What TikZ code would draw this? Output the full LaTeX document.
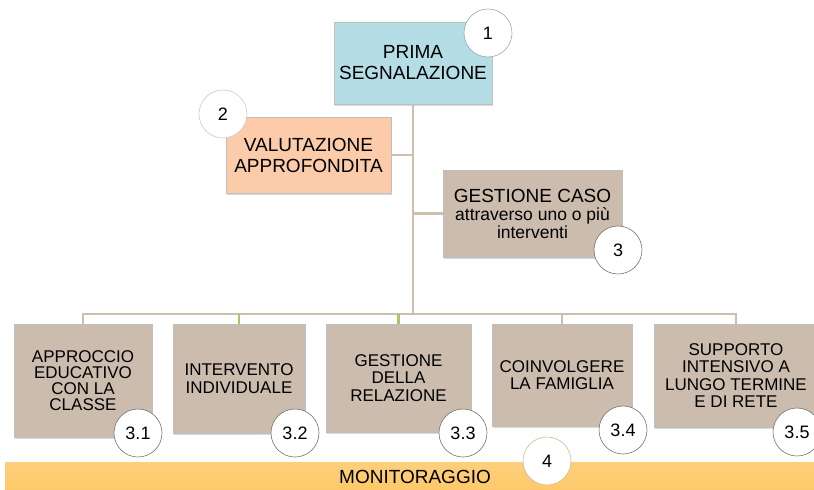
\documentclass[tikz,border=0pt]{standalone}
\usepackage{fontspec}
\setmainfont{Liberation Sans}
\usetikzlibrary{shadows}

\definecolor{lineclr}{HTML}{CDBFAD}
\definecolor{stubclr}{HTML}{A9C46C}
\definecolor{bluebox}{HTML}{B5DDE6}
\definecolor{peachbox}{HTML}{FBCBAA}
\definecolor{taupebox}{HTML}{CBBCAD}
\definecolor{barclr}{HTML}{FDC96A}

\begin{document}
\begin{tikzpicture}[x=1pt, y=-1pt,
		box/.style={draw=black!25, line width=0.5pt, inner sep=2pt, align=center,
			drop shadow={shadow xshift=1.2pt, shadow yshift=-1.5pt, opacity=0.3}},
		big/.style={font=\fontsize{19}{21}\selectfont},
		small/.style={font=\fontsize{17}{17.5}\selectfont},
		numcirc/.style={circle, draw=black!55, fill=white, line width=0.6pt,
			minimum size=48pt, inner sep=0pt, font=\fontsize{18}{18}\selectfont},
		link/.style={draw=lineclr, line width=2.5pt}]
			\useasboundingbox (0,0) rectangle (814,490);
			% upper part
			\node (prima) [box, big, fill=bluebox, minimum width=158pt, minimum height=82pt] at (413,63)
				{PRIMA\\SEGNALAZIONE};
			\node (valut) [box, big, fill=peachbox, minimum width=165pt, minimum height=76pt] at (308.5,155)
				{VALUTAZIONE\\APPROFONDITA};
			\node (gest) [box, fill=taupebox, minimum width=179pt, minimum height=87pt,
				font=\fontsize{17.5}{18}\selectfont] at (532.5,213.5)
				{{\fontsize{19}{19}\selectfont GESTIONE CASO}\\attraverso uno o più\\interventi};
			% interventions
			\node (app) [box, fill=taupebox, minimum width=138pt, minimum height=113pt,
				font=\fontsize{17}{16}\selectfont] at (83,380.5)
				{APPROCCIO\\EDUCATIVO\\CON LA\\CLASSE};
			\node (ind) [box, small, fill=taupebox, minimum width=132pt, minimum height=109pt] at (239,378.5)
				{INTERVENTO\\INDIVIDUALE};
			\node (rel) [box, small, fill=taupebox, minimum width=145pt, minimum height=108pt] at (398.5,378)
				{GESTIONE\\DELLA\\RELAZIONE};
			\node (fam) [box, small, fill=taupebox, minimum width=140pt, minimum height=102pt] at (562,375)
				{COINVOLGERE\\LA FAMIGLIA};
			\node (sup) [box, small, fill=taupebox, minimum width=164pt, minimum height=103pt] at (736,375.5)
				{SUPPORTO\\INTENSIVO A\\LUNGO TERMINE\\E DI RETE};
			% connectors
			\coordinate (bus) at (413,314);
			\draw[link] (prima.south) -- (prima.south |- bus);
			\draw[link] (valut.east) -- (valut.east -| prima);
			\draw[link] (gest.west) -- (gest.west -| prima);
			\draw[link] (app.north) -- (app.north |- bus) -- (sup.north |- bus) -- (sup.north);
			\draw[link] (fam.north) -- (fam.north |- bus);
			\draw[link, draw=stubclr] (ind.north) -- (ind.north |- bus);
			\draw[link, draw=stubclr] (rel.north) -- (rel.north |- bus);
			% monitoring bar
			\shade[top color=barclr!88!white, bottom color=barclr] (5,462) rectangle (814,490);
			\node (mon) [font=\fontsize{19}{19}\selectfont] at (415,477) {MONITORAGGIO};
			% numbers
			\node (n1) [numcirc, draw=bluebox!50!black!60] at (488,33) {1};
			\node (n2) [numcirc, draw=peachbox!70!black!50] at (223,114) {2};
			\node (n3) [numcirc] at (618,250) {3};
			\node (n31) [numcirc] at (138,433) {3.1};
			\node (n32) [numcirc] at (295,433) {3.2};
			\node (n33) [numcirc] at (463,433) {3.3};
			\node (n34) [numcirc] at (623,430) {3.4};
			\node (n35) [numcirc] at (797,432) {3.5};
			\node (n4) [numcirc, draw=barclr!70!black!60] at (547,461) {4};
		\end{tikzpicture}
\end{document}
